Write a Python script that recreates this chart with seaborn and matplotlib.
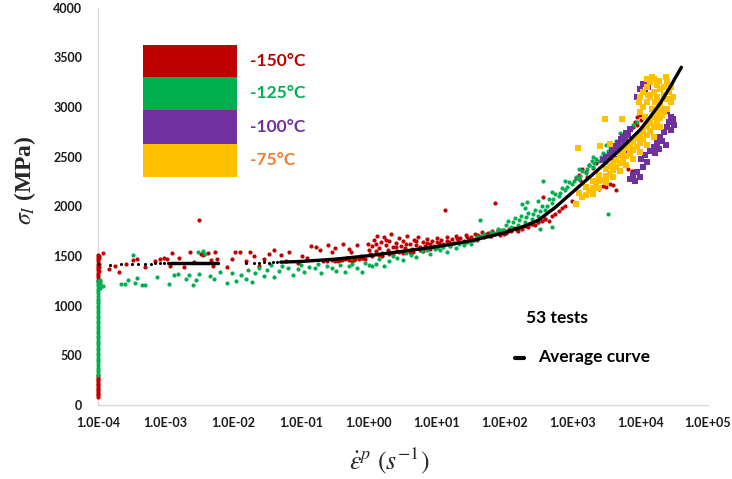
import numpy as np
import pandas as pd
import matplotlib
matplotlib.use("Agg")
import matplotlib.pyplot as plt
from matplotlib.patches import Rectangle
from matplotlib.lines import Line2D
import seaborn as sns

# ---------------------------------------------------------------- data
# strain rates are stored as log10(rate [1/s]); stresses in MPa

# -150 °C
red_log_rate = (
    [-3.99] * 26 + [-3.98] * 5 +
    [-3.92, -3.84, -3.75, -3.68, -3.58, -3.48, -3.42, -3.30, -3.15, -3.08, -3.02, -2.98, -2.94,
     -2.90, -2.80, -2.72, -2.64, -2.58, -2.50, -2.47, -2.44, -2.38, -2.33, -2.30, -2.27, -2.24,
     -2.10, -2.02, -1.98, -1.90, -1.82, -1.76, -1.70, -1.62, -1.55, -1.48, -1.40, -1.30, -1.22,
     -1.18, -1.05, -0.98, -0.92, -0.85, -0.78, -0.72, -0.68, -0.60, -0.55, -0.50, -0.46, -0.42,
     -0.38, -0.33, -0.30, -0.26, -0.22, -0.18, -0.12, -0.08, -0.05, -0.02, 0.00,
     -0.62, -0.55, -0.50, -0.45, -0.40, -0.35, -0.30, -0.25, -0.20, -0.15, -0.10] +
    [0.02, 0.05, 0.08, 0.10, 0.12, 0.15, 0.18, 0.20, 0.22, 0.25, 0.28, 0.30, 0.33, 0.36, 0.40,
     0.42, 0.45, 0.48, 0.50, 0.53, 0.56, 0.60, 0.63, 0.66, 0.70, 0.73, 0.76, 0.80, 0.83, 0.86,
     0.90, 0.93, 0.96, 1.00, 1.03, 1.06, 1.10, 1.13, 1.15, 1.18, 1.22, 1.25, 1.28, 1.32, 1.35,
     1.40, 1.43, 1.47, 1.50, 1.53, 1.57, 1.60, 1.63, 1.67, 1.70, 1.74, 1.78, 1.82, 1.86, 1.86,
     1.90, 1.94, 1.98, 2.02, 2.06, 2.10, 2.14, 2.18, 2.22, 2.26, 2.30, 2.35, 2.40, 2.45, 2.50,
     2.57, 2.55, 2.60,
     0.05, 0.15, 0.30, 0.45, 0.60, 0.75, 0.90,
     0.10, 0.25, 0.40, 0.55, 0.70, 0.85, 1.00, 1.15, 1.30, 1.45, 1.60, 1.75, 1.90, 2.05, 2.20,
     2.35, 0.20, 0.35, 0.50, 0.65, 0.80, 1.00, 1.20, 1.40, 1.60, 1.80, 2.00, 2.20] +
    [2.40, 2.50, 2.60, 2.65, 2.70, 2.75, 2.80, 2.85, 2.90, 3.00, 3.05, 3.10, 3.12, 3.15, 3.20,
     3.22, 3.25, 3.30, 3.35, 3.20, 3.28, 3.35, 3.40, 3.45, 3.50, 3.55, 3.60, 3.65, 3.82, 3.88,
     3.90, 3.93, 3.96, 3.98, 4.00, 4.02, 3.95]
)
red_stress = (
    [78, 96, 112, 131, 147, 163, 181, 198, 214, 232, 249, 266, 281, 297,
     1262, 1288, 1310, 1333, 1356, 1378, 1401, 1424, 1446, 1468, 1489, 1505,
     1350, 1420, 1480, 1500, 1390] +
    [1535, 1370, 1395, 1335, 1415, 1460, 1465, 1390, 1450, 1470, 1475, 1470, 1395,
     1535, 1480, 1390, 1545, 1440, 1860, 1525, 1505, 1535, 1455, 1400, 1545, 1470,
     1385, 1470, 1540, 1545, 1450, 1545, 1500, 1395, 1470, 1525, 1560, 1510, 1445,
     1545, 1430, 1495, 1475, 1600, 1590, 1560, 1445, 1610, 1545, 1580, 1450, 1455,
     1625, 1480, 1570, 1540, 1455, 1610, 1500, 1480, 1470, 1620, 1560,
     1450, 1455, 1445, 1460, 1455, 1465, 1460, 1450, 1470, 1465, 1475] +
    [1520, 1600, 1660, 1550, 1700, 1580, 1640, 1530, 1690, 1610, 1560, 1650, 1720, 1590, 1630,
     1555, 1680, 1600, 1650, 1580, 1700, 1620, 1570, 1660, 1610, 1690, 1590, 1640, 1600, 1670,
     1620, 1650, 1600, 1680, 1630, 1660, 1620, 1960, 1690, 1640, 1670, 1630, 1700, 1660, 1680,
     1650, 1710, 1670, 1690, 1660, 1720, 1680, 1700, 1740, 1690, 1720, 1700, 1750, 2030, 1720,
     1740, 1710, 1760, 1730, 1770, 1750, 1780, 1760, 1790, 1770, 1800, 1790, 1820, 1810, 1840,
     2090, 1850, 1870,
     1500, 1510, 1525, 1540, 1545, 1560, 1575,
     1620, 1660, 1590, 1620, 1650, 1630, 1640, 1650, 1680, 1690, 1710, 1730, 1760, 1750, 1780,
     1810, 1500, 1520, 1530, 1540, 1555, 1590, 1610, 1640, 1660, 1700, 1720, 1750] +
    [1820, 1840, 1870, 1850, 1900, 1920, 1950, 1980, 2000, 2050, 2290, 2320, 2270, 2380, 2350,
     2300, 2420, 2390, 2440, 2120, 2150, 2180, 2170, 2200, 2190, 2220, 2210, 2160, 2380, 2360,
     2800, 2850, 2900, 2950, 2920, 2870, 2820]
)

# -125 °C
green_log_rate = (
    [-3.99] * 40 + [-3.97] * 4 +
    [-3.92, -3.66, -3.60, -3.55, -3.48, -3.45, -3.42, -3.35, -3.30, -3.12, -2.95, -2.88, -2.82,
     -2.70, -2.66, -2.60, -2.55, -2.52, -2.50, -2.45, -2.42, -2.35, -2.28, -2.20, -2.10, -2.02,
     -1.96, -1.88, -1.82, -1.78, -1.72, -1.68, -1.62, -1.55, -1.50, -1.45, -1.40, -1.32, -1.28,
     -1.20, -1.12, -1.05, -1.00, -0.95, -0.88, -0.80, -0.75, -0.70, -0.62, -0.55, -0.48, -0.42,
     -0.35, -0.30, -0.25, -0.18, -0.10, -0.05, 0.00] +
    [0.05, 0.10, 0.15, 0.22, 0.30, 0.35, 0.42, 0.50, 0.55, 0.62, 0.70, 0.78, 0.85, 0.90, 0.98,
     1.05, 1.10, 1.15, 1.20, 1.28, 1.33, 1.40, 1.45, 1.50, 1.55, 1.60, 1.64, 1.66, 1.70, 1.75,
     1.80, 1.85, 1.90, 1.95, 2.26, 2.33, 2.52, 2.57, 2.70, 3.29, 3.52,
     1.00, 1.20, 1.40, 1.60, 1.80, 1.90] +
    [2.00, 2.10, 2.20, 2.30, 2.40, 2.50, 2.60, 2.70, 2.80, 2.90, 3.00, 3.10, 3.20, 3.30, 3.40,
     3.50, 3.60, 3.70, 3.80,
     2.05, 2.15, 2.25, 2.35, 2.45, 2.55, 2.65, 2.75, 2.85, 2.95, 3.05, 3.15, 3.25, 3.35, 3.45,
     3.55, 3.65, 3.75, 3.85,
     2.02, 2.12, 2.22, 2.32, 2.42, 2.52, 2.62, 2.72, 2.82, 2.92, 3.02, 3.12, 3.22, 3.32, 3.42,
     3.52, 3.62, 3.72, 3.82,
     2.30, 2.50, 2.70, 2.90, 3.10, 3.30, 3.50, 3.70, 3.90, 3.96]
)
green_stress = (
    [305, 330, 352, 377, 401, 428, 450, 476, 503, 525, 551, 574, 600, 626, 648, 675, 699, 722,
     748, 775, 799, 823, 850, 874, 898, 925, 950, 972, 998, 1024, 1049, 1072, 1098, 1125, 1148,
     1172, 1196, 1218, 1236, 1250,
     1180, 1215, 1240, 1258] +
    [1195, 1222, 1215, 1260, 1515, 1225, 1280, 1205, 1210, 1290, 1220, 1305, 1320,
     1265, 1310, 1205, 1260, 1540, 1315, 1555, 1520, 1300, 1270, 1335, 1225, 1330,
     1250, 1310, 1270, 1360, 1235, 1330, 1380, 1300, 1360, 1405, 1285, 1350, 1395,
     1380, 1310, 1370, 1405, 1340, 1390, 1375, 1420, 1330, 1395, 1380, 1350, 1410,
     1340, 1400, 1420, 1380, 1340, 1425, 1410] +
    [1395, 1420, 1470, 1400, 1445, 1500, 1480, 1460, 1530, 1510, 1490, 1550, 1560, 1520, 1575,
     1560, 1590, 1545, 1600, 1585, 1620, 1610, 1640, 1625, 1660, 1690, 1860, 1700, 1720, 1705,
     1745, 1730, 1770, 1760, 2020, 2040, 1770, 2250, 1790, 2455, 1920,
     1580, 1600, 1630, 1670, 1720, 1750] +
    [1765, 1790, 1815, 1845, 1875, 1900, 1960, 2030, 2100, 2160, 2220, 2280, 2340, 2400, 2460,
     2520, 2580, 2650, 2720,
     1850, 1880, 1900, 1930, 1960, 2000, 2070, 2120, 2180, 2240, 2300, 2360, 2420, 2480, 2540,
     2600, 2660, 2730, 2790,
     1810, 1840, 1860, 1890, 1920, 1950, 2000, 2070, 2130, 2190, 2250, 2310, 2380, 2440, 2500,
     2560, 2620, 2690, 2760,
     1980, 2050, 2140, 2260, 2380, 2500, 2620, 2740, 2820, 2850]
)

# -100 °C
purple_log_rate = [
    3.45, 3.50, 3.55, 3.58, 3.62, 3.65, 3.68, 3.70, 3.72, 3.75, 3.78, 3.80, 3.82, 3.85, 3.62,
    3.70, 3.78, 3.95, 4.00, 4.05, 4.10, 4.12, 4.08, 3.85, 3.90, 3.95, 4.00, 4.05, 4.10, 4.02,
    3.92, 4.08, 4.15, 4.20, 4.25, 4.30, 4.33, 4.36, 4.40, 4.42, 4.45, 4.48, 4.50, 4.46, 4.38,
    4.28, 4.22, 4.35, 4.30, 4.40,
]
purple_stress = [
    2470, 2500, 2520, 2560, 2580, 2610, 2640, 2600, 2680, 2700, 2660, 2740, 2720, 2780, 2480,
    2530, 2570, 3100, 3180, 3230, 3250, 3200, 3150, 2280, 2320, 2350, 2300, 2400, 2450, 2480,
    2260, 2520, 2560, 2600, 2640, 2700, 2660, 2750, 2800, 2850, 2900, 2880, 2820, 2770, 2620,
    2580, 2540, 2950, 2900, 2960,
]

# -75 °C
yellow_log_rate = [
    3.10, 3.20, 3.30, 3.40, 3.50, 3.60, 3.70, 3.80, 3.90, 4.00, 4.10, 4.20, 4.30,
    3.05, 3.15, 3.25, 3.35, 3.45, 3.55, 3.65, 3.75, 3.85, 3.95, 4.05, 4.15, 4.25, 4.32,
    3.30, 3.40, 3.50, 3.60, 3.70, 3.80, 3.90, 4.00, 4.10, 4.20, 4.30,
    3.55, 3.65, 3.75, 3.85, 3.95, 4.05, 4.15, 4.25,
    3.20, 3.30, 3.40, 3.50, 3.60, 3.70, 3.80, 3.90, 4.00, 4.10, 4.20, 4.30, 4.38,
    4.00, 4.05, 4.10, 4.15, 4.20, 4.25, 4.30, 4.35, 4.40, 4.45, 4.20, 4.10, 4.15, 4.25, 4.30,
    4.05, 3.98, 4.00, 4.35, 4.40, 4.45, 4.40, 4.35,
    4.10, 4.18, 4.28, 4.38, 4.42, 4.48, 4.12, 4.22, 4.32, 4.08, 4.18,
    3.09, 3.41, 3.55, 3.49, 3.73,
]
yellow_stress = [
    2130, 2190, 2250, 2320, 2380, 2440, 2520, 2590, 2660, 2730, 2810, 2900, 2990,
    2020, 2090, 2150, 2210, 2270, 2330, 2400, 2460, 2530, 2600, 2680, 2760, 2850, 2920,
    2120, 2180, 2240, 2300, 2360, 2420, 2480, 2550, 2620, 2700, 2800,
    2410, 2470, 2550, 2620, 2690, 2760, 2840, 2930,
    2110, 2180, 2250, 2310, 2370, 2440, 2510, 2570, 2640, 2720, 2800, 2890, 2980,
    3100, 3150, 3200, 3250, 3280, 3220, 3180, 3120, 3260, 3200, 3150, 3050, 3100, 3100, 3050,
    3000, 3050, 2950, 3200, 3080, 3050, 2980, 2950,
    3280, 3300, 3260, 3300, 3150, 3100, 3120, 3050, 2950, 2900, 2980,
    2585, 2610, 2625, 2880, 2880,
]

# average curve: dotted part at low rates, short solid plateau, then the fitted curve
avg_dot_log_rate = [-3.99, -3.82, -3.65, -3.50, -3.40, -3.30, -3.22, -3.15, -3.08, -3.02, -2.97,
                    -1.82, -1.70, -1.62, -1.55, -1.48, -1.42, -1.36]
avg_dot_stress = [1420, 1410, 1420, 1420, 1420, 1422, 1422, 1425, 1425, 1425, 1425,
                  1432, 1428, 1432, 1435, 1433, 1438, 1436]
plateau_log_rate = [-2.93, -2.22]
plateau_stress = [1425, 1425]
avg_log_rate = [-1.30, -1.00, -0.50, 0.00, 0.50, 1.00, 1.50, 2.00, 2.25, 2.50, 2.75, 3.00,
                3.25, 3.50, 3.75, 4.00, 4.15, 4.30, 4.45, 4.61]
avg_stress = [1438, 1445, 1468, 1503, 1548, 1593, 1652, 1735, 1790, 1860, 1990, 2140,
              2290, 2440, 2600, 2770, 2900, 3040, 3210, 3400]

temps = ["-150°C", "-125°C", "-100°C", "-75°C"]
fill_colors = ["#C00000", "#00B050", "#7030A0", "#FFC000"]
text_colors = ["#C00000", "#00B050", "#7030A0", "#ED7D31"]

x_tick_exp = [-4, -3, -2, -1, 0, 1, 2, 3, 4, 5]
x_tick_labels = ["1.0E-04", "1.0E-03", "1.0E-02", "1.0E-01", "1.0E+00",
                 "1.0E+01", "1.0E+02", "1.0E+03", "1.0E+04", "1.0E+05"]
y_ticks = [0, 500, 1000, 1500, 2000, 2500, 3000, 3500, 4000]


def frame(log_rate, stress):
    return pd.DataFrame({"rate": np.power(10.0, log_rate), "stress": stress})


# ---------------------------------------------------------------- figure
sns.set_style("white")
plt.rcParams["font.family"] = ["Lato", "DejaVu Sans"]
plt.rcParams["mathtext.fontset"] = "stix"

fig = plt.figure(figsize=(7.32, 4.79), dpi=100)
ax = fig.add_axes([0.1335, 0.1545, 0.8335, 0.8295])

series = [
    (red_log_rate, red_stress, fill_colors[0], "o", 9),
    (green_log_rate, green_stress, fill_colors[1], "o", 9),
    (purple_log_rate, purple_stress, fill_colors[2], "s", 20),
    (yellow_log_rate, yellow_stress, fill_colors[3], "s", 22),
]
# markers sit above the grey spines so the column at the first decade stays solid
for k, (lr, st, col, mk, sz) in enumerate(series):
    sns.scatterplot(data=frame(lr, st), x="rate", y="stress", color=col, marker=mk,
                    s=sz, linewidth=0, ax=ax, zorder=3 + k, clip_on=False)

sns.scatterplot(data=frame(avg_dot_log_rate, avg_dot_stress), x="rate", y="stress",
                color="black", s=5, linewidth=0, ax=ax, zorder=8)
sns.lineplot(data=frame(plateau_log_rate, plateau_stress), x="rate", y="stress",
             color="black", linewidth=2.5, ax=ax, zorder=8)
sns.lineplot(data=frame(avg_log_rate, avg_stress), x="rate", y="stress",
             color="black", linewidth=2.4, ax=ax, zorder=9)

ax.set_xscale("log")
ax.set_xlim(1e-4, 1e5)
ax.set_ylim(0, 4000)
ax.set_xticks([10.0 ** e for e in x_tick_exp])
ax.set_xticklabels(x_tick_labels)
ax.xaxis.set_minor_locator(matplotlib.ticker.NullLocator())
ax.set_yticks(y_ticks)
ax.set_yticklabels([str(v) for v in y_ticks])
ax.set_xlabel("")
ax.set_ylabel("")

for side in ("top", "right"):
    ax.spines[side].set_visible(False)
for side in ("left", "bottom"):
    ax.spines[side].set_color("#D9D9D9")
    ax.spines[side].set_linewidth(1.0)
ax.tick_params(axis="both", which="major", length=4, width=1, color="#D9D9D9",
               labelsize=9, labelcolor="#1a1a1a", direction="out")
ax.tick_params(axis="x", pad=5)
ax.tick_params(axis="y", pad=7)
for lab in ax.get_xticklabels() + ax.get_yticklabels():
    lab.set_fontweight("bold")

# axis titles
fig.text(25 / 732, 1 - 180 / 479, r"$\sigma_I$ (MPa)", rotation=90, ha="center",
         va="center", fontsize=17, fontweight="bold", family="Liberation Serif")
fig.text(389 / 732, 1 - 461 / 479, r"$\dot{\varepsilon}^{p}\ (s^{-1})$",
         ha="center", va="center", fontsize=18.5)

# temperature key: stacked colour blocks with labels
block_top = [45, 76.7, 110, 144]
block_bottom = [76.7, 110, 144, 176.7]
for k in range(4):
    y0 = 1 - block_bottom[k] / 479
    h = (block_bottom[k] - block_top[k]) / 479
    fig.add_artist(Rectangle((143 / 732, y0), 94 / 732, h, transform=fig.transFigure,
                             facecolor=fill_colors[k], edgecolor="none"))
    yc = 1 - (block_top[k] + block_bottom[k]) / 2 / 479
    fig.text(250 / 732, yc, temps[k], color=text_colors[k], fontsize=12.5,
             fontweight="bold", ha="left", va="center")

fig.text(557 / 732, 1 - 318 / 479, "53 tests", fontsize=12.5, fontweight="bold",
         ha="center", va="center", color="black")
fig.add_artist(Line2D([515 / 732, 524 / 732], [1 - 358 / 479, 1 - 358 / 479],
                      transform=fig.transFigure, color="black", linewidth=3))
fig.text(538 / 732, 1 - 357 / 479, "Average curve", fontsize=12.5, fontweight="bold",
         ha="left", va="center", color="black")

fig.savefig("out.png", dpi=100)
